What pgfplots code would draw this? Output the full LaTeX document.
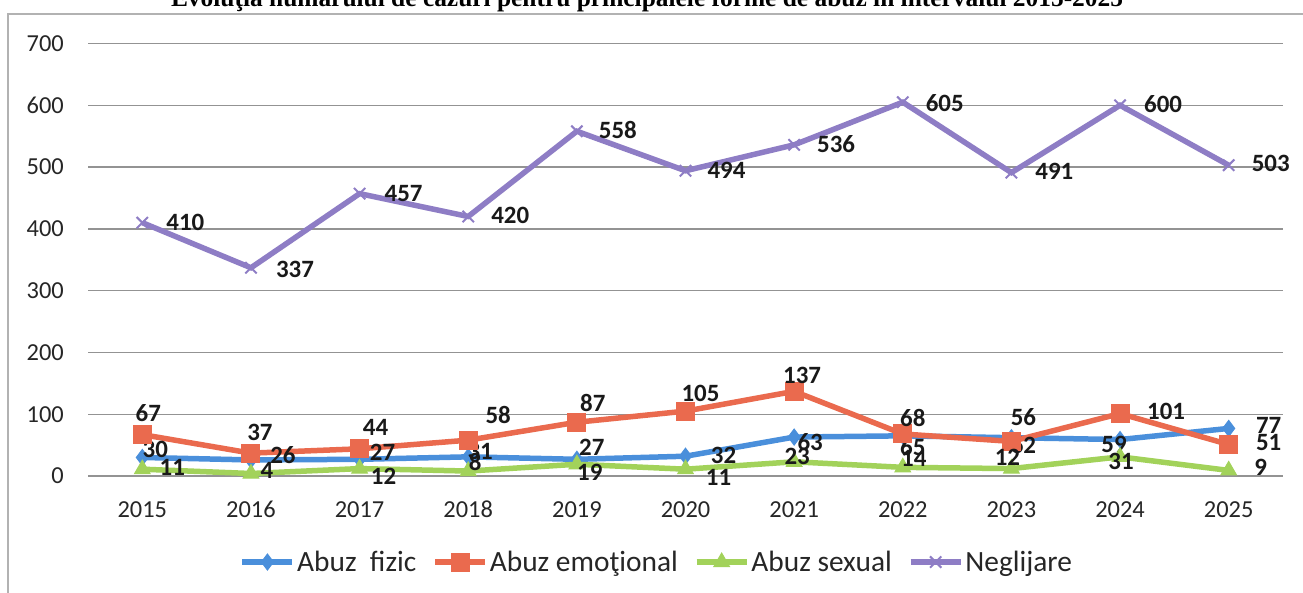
\documentclass[border=0pt]{standalone}
\usepackage{pgfplots}
\pgfplotsset{compat=1.18}
\usepackage{pgfplotstable}
\usepackage{fontspec}
\setmainfont{Carlito}
\newfontfamily\titlefont{Liberation Serif}

\definecolor{cfiz}{HTML}{4A8FDB}
\definecolor{cemo}{HTML}{EA6A4E}
\definecolor{csex}{HTML}{A2D25A}
\definecolor{cneg}{HTML}{8E7DC5}

% x = year index (0 = 2015), y = cases, dx/dy = label offset in bp
\pgfplotstableread{
x y dx dy
0 30 13 8
1 26 32 5
2 27 23 7
3 31 12 5
4 27 15 12
5 32 38 1
6 63 16 -5
7 65 10 -11
8 62 12 -7
9 59 -6 -5
10 77 40 3
}\fizic
\pgfplotstableread{
x y dx dy
0 67 6 22
1 37 9 21
2 44 16 21
3 58 30 25
4 87 16 19
5 105 15 18
6 137 8 16
7 68 10 16
8 56 12 24
9 101 46 2
10 51 40 2
}\emo
\pgfplotstableread{
x y dx dy
0 11 30 2
1 4 16 3
2 12 24 -8
3 8 7 9
4 19 13 -8
5 11 33 -8
6 23 3 5
7 14 11 9
8 12 -4 11
9 31 1 -5
10 9 32 3
}\sex
\pgfplotstableread{
x y dx dy
0 410 43 0
1 337 44 -2
2 457 44 0
3 420 42 1
4 558 41 1
5 494 41 0
6 536 42 1
7 605 42 -1
8 491 43 1
9 600 43 1
10 503 42 2
}\neg

\begin{document}
\begin{tikzpicture}[x=1bp,y=1bp]
\draw[gray!60, line width=1.5bp] (8,-20) -- (8,579) -- (1320,579);
\node[anchor=base, font=\titlefont\bfseries\fontsize{25.5}{28}\selectfont]
  at (647,586) {Evoluţia numărului de cazuri pentru principalele forme de abuz în intervalul 2015-2025};
\begin{axis}[
    at={(88bp,117bp)}, anchor=south west,
    scale only axis,
    width=1195bp, height=432.5bp,
    xmin=-0.5, xmax=10.5,
    ymin=0, ymax=700,
    xtick={0,...,10},
    xticklabels={2015,2016,2017,2018,2019,2020,2021,2022,2023,2024,2025},
    ytick={0,100,...,700},
    /pgf/number format/assume math mode=true,
    axis line style={draw=none},
    major tick length=0pt,
    ymajorgrids,
    major grid style={gray!85, line width=1.3bp},
    tick label style={font=\fontsize{24.5}{28}\selectfont, text=black!85},
    yticklabel style={anchor=east, inner sep=0pt, xshift=-24bp},
    xticklabel style={anchor=north, inner sep=0pt, yshift=-25bp},
    every axis plot/.append style={line width=5.5bp},
    nodes near coords,
    visualization depends on={\thisrow{dx} \as \dx},
    visualization depends on={\thisrow{dy} \as \dy},
    every node near coord/.append style={anchor=center, inner sep=0pt,
        xshift=\dx bp, yshift=\dy bp,
        font=\bfseries\fontsize{25}{28}\selectfont, text=black!90},
    legend columns=4,
    legend style={draw=none, fill=none, at={(0.476,-0.199)}, anchor=center,
        font=\fontsize{29.5}{32}\selectfont, text=black!85,
        nodes={inner sep=2bp},
        /tikz/every even column/.append style={column sep=14bp}},
    legend image code/.code={
        \draw[mark repeat=2, mark phase=2] plot coordinates {(0bp,0bp) (25bp,0bp) (50bp,0bp)};},
]
\addplot[cfiz, mark=diamond*, mark size=8bp, mark options={line width=1bp}]
  table[x=x, y=y]{\fizic};
\addlegendentry{Abuz~ fizic}
\addplot[cemo, mark=square*, mark size=9bp, mark options={line width=1bp}]
  table[x=x, y=y]{\emo};
\addlegendentry{Abuz emoţional}
\addplot[csex, mark=triangle*, mark size=9bp, mark options={line width=1bp}]
  table[x=x, y=y]{\sex};
\addlegendentry{Abuz sexual}
\addplot[cneg, mark=x, mark size=8bp, mark options={line width=2bp}]
  table[x=x, y=y]{\neg};
\addlegendentry{Neglijare}
\end{axis}
\pgfresetboundingbox
\path[use as bounding box] (0,0) rectangle (1303,593);
\end{tikzpicture}
\end{document}
